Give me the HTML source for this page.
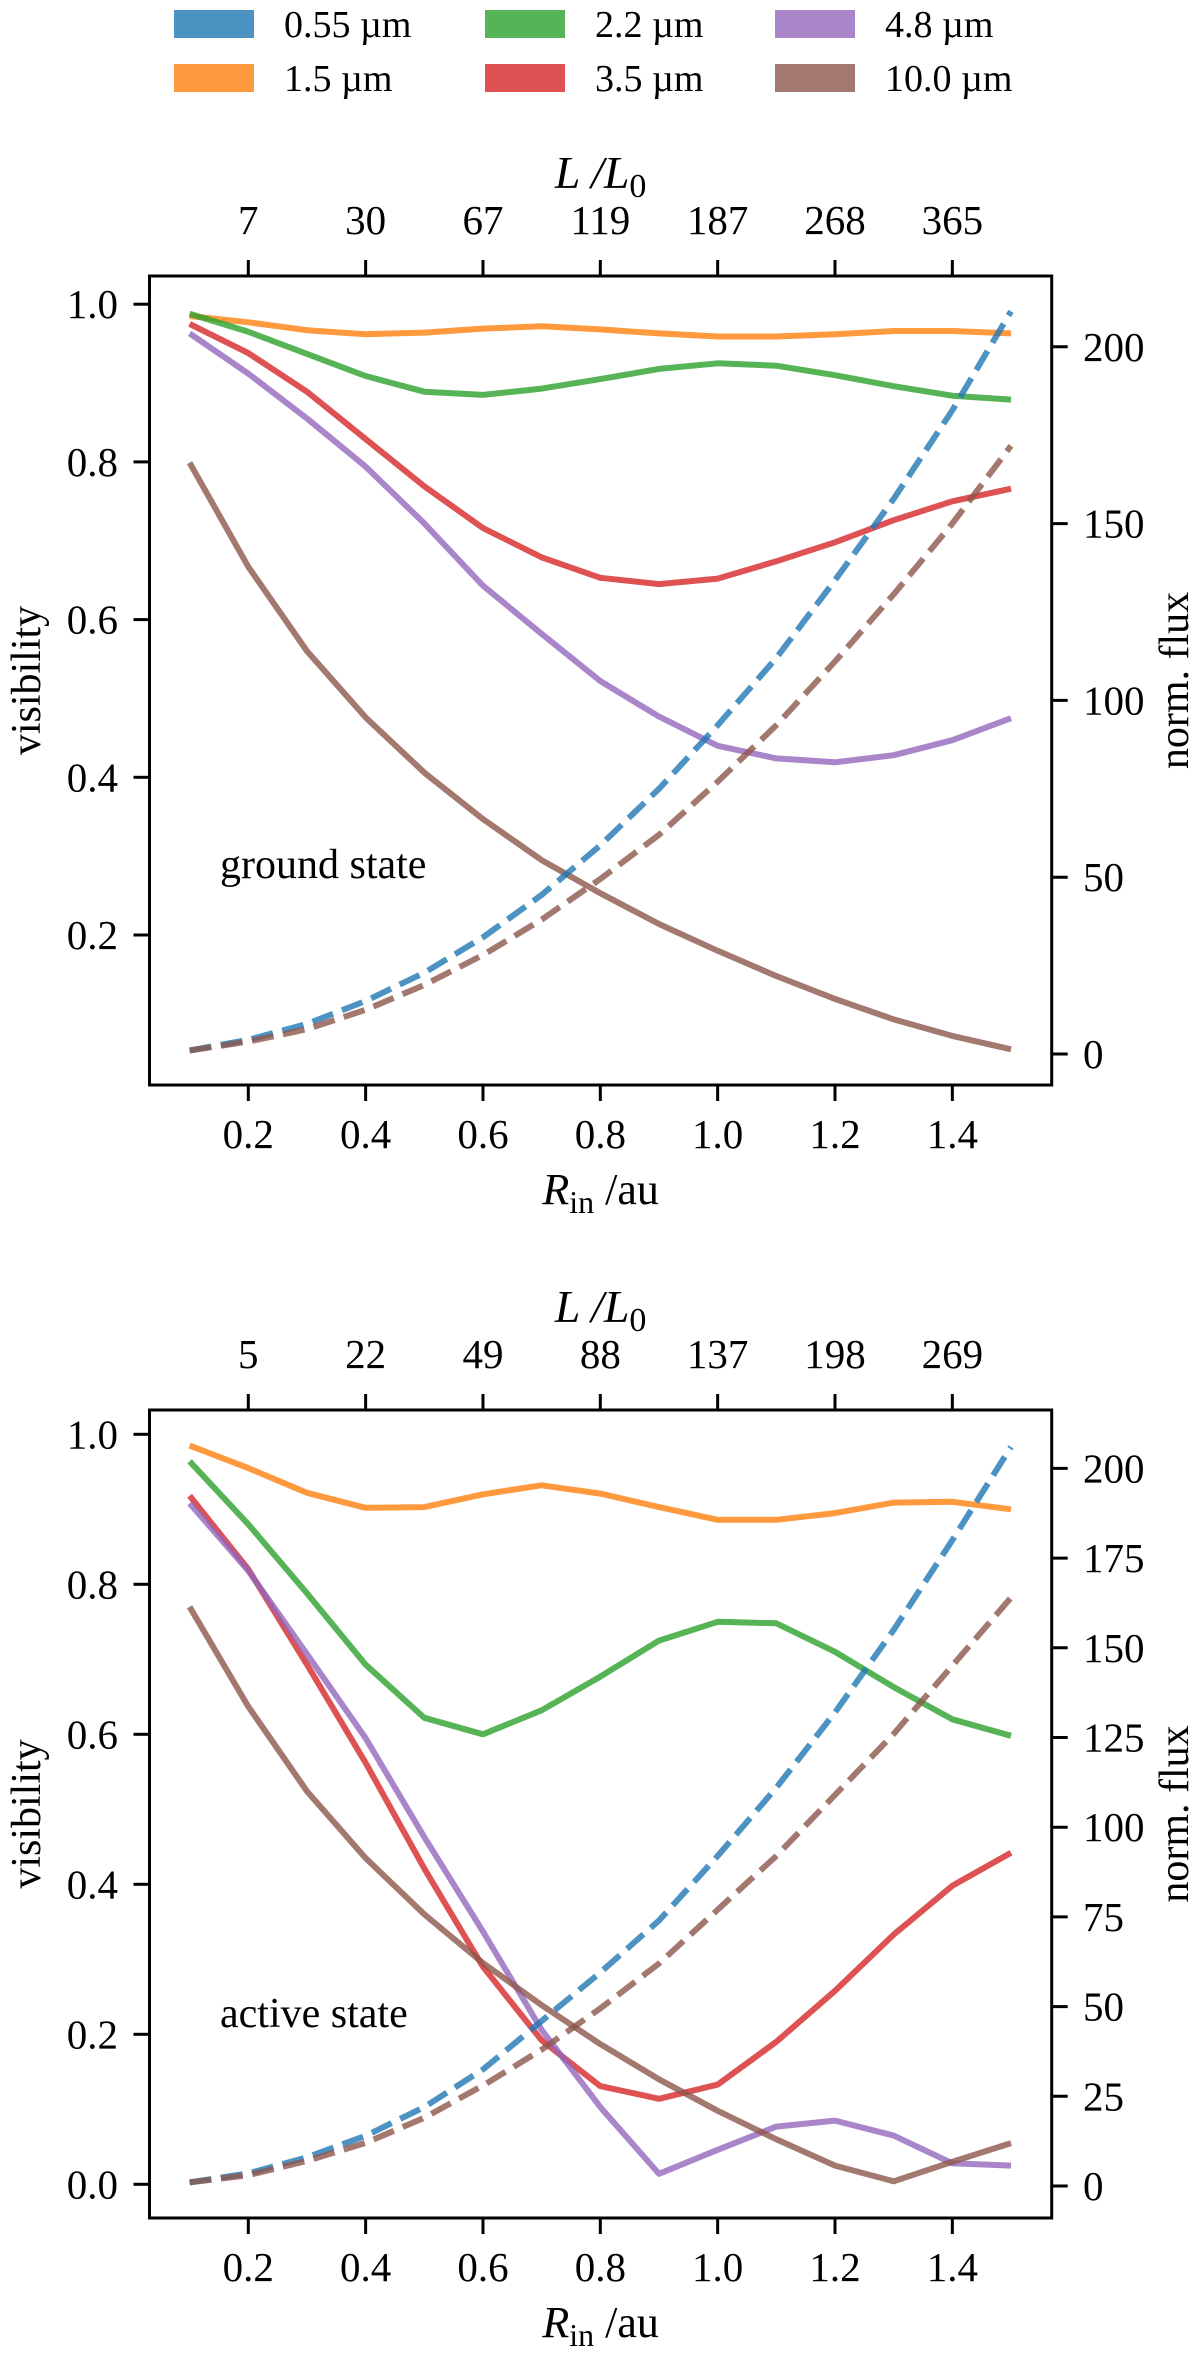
<!DOCTYPE html>
<html><head><meta charset="utf-8"><style>
html,body{margin:0;padding:0;background:#fff;}
svg{display:block;font-family:"Liberation Serif",serif;}
</style></head><body>
<svg id="fig" width="1200" height="2353" viewBox="0 0 1200 2353" xmlns="http://www.w3.org/2000/svg">
<g id="legend"></g>
<g id="p1"></g>
<g id="p2"></g>
</svg>
<script>
const radii = [0.1,0.2,0.3,0.4,0.5,0.6,0.7,0.8,0.9,1.0,1.1,1.2,1.3,1.4,1.5];
const xTicks = [0.2,0.4,0.6,0.8,1.0,1.2,1.4];
const xTickLabels = ["0.2","0.4","0.6","0.8","1.0","1.2","1.4"];
const lumLabelsGround = ["7","30","67","119","187","268","365"];
const lumLabelsActive = ["5","22","49","88","137","198","269"];
const visTicksGround = [0.2,0.4,0.6,0.8,1.0];
const visTicksActive = [0.0,0.2,0.4,0.6,0.8,1.0];
const fluxTicksGround = [0,50,100,150,200];
const fluxTicksActive = [0,25,50,75,100,125,150,175,200];
const wavelengths = ["0.55 µm","1.5 µm","2.2 µm","3.5 µm","4.8 µm","10.0 µm"];
const colors = ["rgba(31,119,180,0.8)","rgba(255,127,14,0.8)","rgba(44,160,44,0.8)","rgba(214,39,40,0.8)","rgba(148,103,189,0.8)","rgba(140,86,75,0.8)"];

// ground state visibilities
const g15 = [0.985,0.977,0.967,0.962,0.964,0.969,0.972,0.968,0.963,0.959,0.959,0.962,0.966,0.966,0.963];
const g22 = [0.988,0.965,0.937,0.909,0.889,0.885,0.893,0.905,0.918,0.925,0.922,0.91,0.896,0.884,0.879];
const g35 = [0.975,0.938,0.889,0.829,0.769,0.716,0.679,0.653,0.645,0.652,0.674,0.698,0.726,0.75,0.766];
const g48 = [0.963,0.912,0.855,0.794,0.722,0.643,0.582,0.522,0.477,0.44,0.424,0.419,0.428,0.447,0.475];
const g100 = [0.799,0.667,0.56,0.476,0.406,0.347,0.295,0.253,0.214,0.18,0.148,0.119,0.093,0.072,0.055];
const gFluxBlue = [1,4,8.5,15,23,33,45,59,75,93,112,134,157,182,210];
const gFluxBrown = [1,3.5,7,12.5,19.5,28,38,49.5,62,77,93,111,130,150,172];

// active state visibilities
const a15 = [0.985,0.955,0.922,0.902,0.903,0.92,0.932,0.921,0.903,0.886,0.886,0.895,0.909,0.91,0.9];
const a22 = [0.964,0.88,0.788,0.693,0.622,0.6,0.632,0.677,0.725,0.75,0.748,0.71,0.663,0.62,0.598];
const a35 = [0.918,0.82,0.693,0.562,0.421,0.29,0.192,0.131,0.114,0.133,0.19,0.258,0.333,0.398,0.442];
const a48 = [0.908,0.818,0.707,0.595,0.463,0.337,0.206,0.103,0.014,0.046,0.077,0.085,0.065,0.028,0.025];
const a100 = [0.77,0.637,0.524,0.435,0.36,0.295,0.239,0.187,0.14,0.098,0.06,0.025,0.004,0.03,0.055];
const aFluxBlue = [1,3.5,8,14,22,32.5,46,59.5,74,92,111,132,155,180,206];
const aFluxBrown = [1,3,7,12,19,28,38,49.5,62,77,92,109,126,145,164];

const NS = "http://www.w3.org/2000/svg";
function mk(parent, tag, attrs, text){
  const e = document.createElementNS(NS, tag);
  for (const k in attrs) e.setAttribute(k, attrs[k]);
  if (text !== undefined) e.textContent = text;
  parent.appendChild(e);
  return e;
}
const X0 = 149.5, X1 = 1051.7;
function xs(v){ return 248.3 + (v - 0.2) * 586.7; }

// legend
const lg = document.getElementById('legend');
const legendCols = [174,485,775];
for (let i = 0; i < wavelengths.length; i++){
  const col = Math.floor(i/2), row = i % 2;
  const x = legendCols[col], y = row === 0 ? 10 : 64;
  const r = mk(lg,'rect',{x:x,y:y,width:80,height:28,fill:colors[i]});
  
  
  const t = mk(lg,'text',{x:x+110,y:y+27,'font-size':38,fill:'#000'}, wavelengths[i]);
  
  
}

function panel(g, cfg){
  const top = cfg.top, bot = cfg.bot;
  const vy = v => cfg.v0 - cfg.vs * v;
  const fy = f => cfg.f0 - cfg.fs * f;
  const cid = 'clip' + cfg.id;
  const defs = mk(g,'defs',{});
  const cp = mk(defs,'clipPath',{id:cid});
  mk(cp,'rect',{x:X0,y:top,width:X1-X0,height:bot-top});
  const lines = mk(g,'g',{'clip-path':'url(#'+cid+')'});
  
  
  function poly(vals, scale, color, dashed, name){
    const pts = radii.map((r,i)=> xs(r).toFixed(1)+','+scale(vals[i]).toFixed(1)).join(' ');
    const a = {points:pts,fill:'none',stroke:color,'stroke-width':6,'stroke-linejoin':'round'};
    if (dashed) a['stroke-dasharray'] = '22 9.6';
    const p = mk(lines,'polyline',a);
    
    
  }
  poly(cfg.v15, vy, colors[1], false, 'line-1.5um');
  poly(cfg.v22, vy, colors[2], false, 'line-2.2um');
  poly(cfg.v35, vy, colors[3], false, 'line-3.5um');
  poly(cfg.v48, vy, colors[4], false, 'line-4.8um');
  poly(cfg.v100, vy, colors[5], false, 'line-10um');
  poly(cfg.fb, fy, colors[0], true, 'flux-0.55um');
  poly(cfg.fr, fy, colors[5], true, 'flux-10um');
  const fr = mk(g,'rect',{x:X0,y:top,width:X1-X0,height:bot-top,fill:'none',stroke:'#000','stroke-width':3});
  
  
  xTicks.forEach((v,i)=>{
    const x = xs(v);
    mk(g,'line',{x1:x,y1:bot,x2:x,y2:bot+16,stroke:'#000','stroke-width':3});
    const t = mk(g,'text',{x:x,y:bot+63,'font-size':41,'text-anchor':'middle'}, xTickLabels[i]);
    
    
    mk(g,'line',{x1:x,y1:top,x2:x,y2:top-16,stroke:'#000','stroke-width':3});
    const t2 = mk(g,'text',{x:x,y:top-42,'font-size':41,'text-anchor':'middle'}, cfg.lum[i]);
    
    
  });
  cfg.vt.forEach(v=>{
    const y = vy(v);
    mk(g,'line',{x1:X0,y1:y,x2:X0-16,y2:y,stroke:'#000','stroke-width':3});
    const t = mk(g,'text',{x:118,y:y+14,'font-size':41,'text-anchor':'end'}, v.toFixed(1));
    
    
  });
  cfg.ft.forEach(f=>{
    const y = fy(f);
    mk(g,'line',{x1:X1,y1:y,x2:X1+16,y2:y,stroke:'#000','stroke-width':3});
    const t = mk(g,'text',{x:1083,y:y+14,'font-size':41}, String(f));
    
    
  });
  const cx = (X0+X1)/2, cy = (top+bot)/2;
  const xl = mk(g,'text',{x:cx,y:bot+119,'font-size':44,'text-anchor':'middle'});
  
  
  mk(xl,'tspan',{'font-style':'italic'},'R');
  mk(xl,'tspan',{'font-size':32,dy:9},'in');
  mk(xl,'tspan',{dy:-9},' /au');
  const tl = mk(g,'text',{x:cx,y:top-88,'font-size':46,'text-anchor':'middle'});
  
  
  mk(tl,'tspan',{'font-style':'italic'},'L /L');
  mk(tl,'tspan',{'font-size':34,dy:9},'0');
  const yl = mk(g,'text',{x:0,y:0,'font-size':42,'text-anchor':'middle',transform:'translate(40,'+cy+') rotate(-90)'},'visibility');
  
  
  const rl = mk(g,'text',{x:0,y:0,'font-size':42,'text-anchor':'middle',transform:'translate(1188,'+cy+') rotate(-90)'},'norm. flux');
  
  
  const st = mk(g,'text',{x:220,y:cfg.stateY,'font-size':42}, cfg.state);
  
  
}

panel(document.getElementById('p1'), {id:1, top:276, bot:1085, v0:1092.7, vs:788.5, f0:1054, fs:3.536,
  v15:g15, v22:g22, v35:g35, v48:g48, v100:g100, fb:gFluxBlue, fr:gFluxBrown,
  lum:lumLabelsGround, vt:visTicksGround, ft:fluxTicksGround, state:'ground state', stateY:878});
panel(document.getElementById('p2'), {id:2, top:1410, bot:2218, v0:2184.3, vs:750, f0:2186, fs:3.588,
  v15:a15, v22:a22, v35:a35, v48:a48, v100:a100, fb:aFluxBlue, fr:aFluxBrown,
  lum:lumLabelsActive, vt:visTicksActive, ft:fluxTicksActive, state:'active state', stateY:2027});
</script>
</body></html>
